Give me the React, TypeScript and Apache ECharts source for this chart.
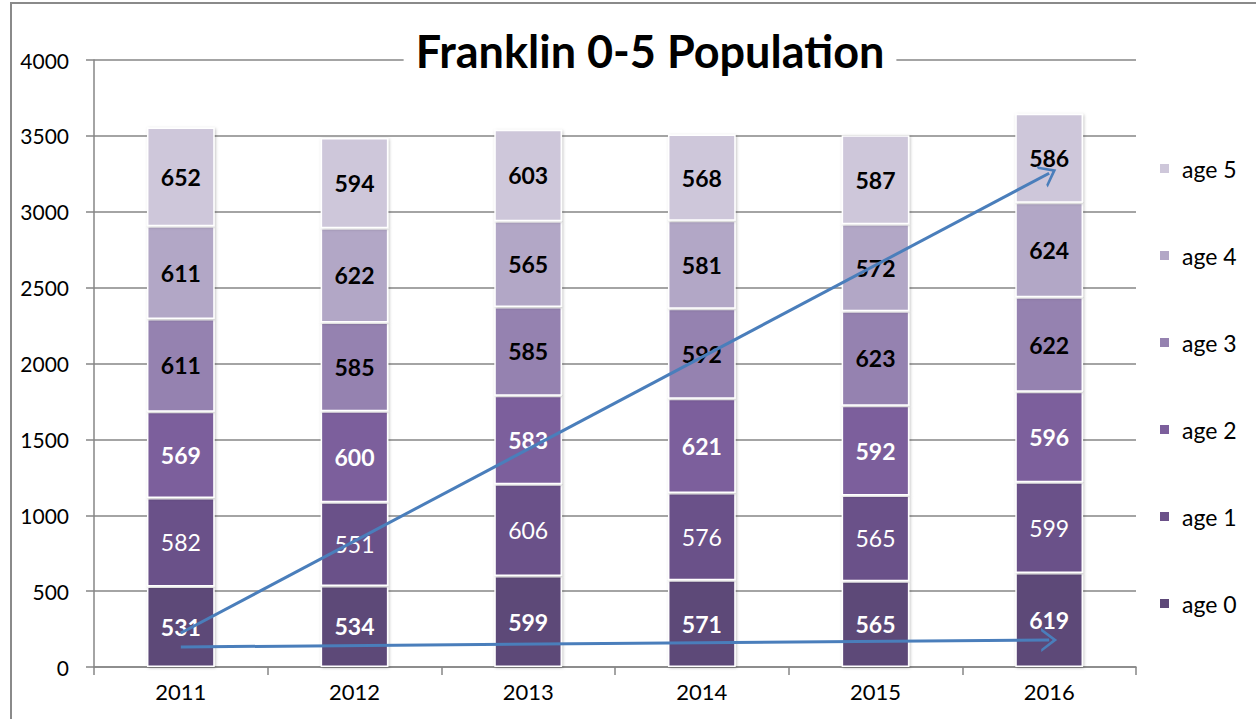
import React, { useEffect, useRef } from "react";
import * as echarts from "echarts";

const years = ["2011", "2012", "2013", "2014", "2015", "2016"];
const seriesNames = ["age 0", "age 1", "age 2", "age 3", "age 4", "age 5"];
const age0 = [531, 534, 599, 571, 565, 619];
const age1 = [582, 551, 606, 576, 565, 599];
const age2 = [569, 600, 583, 621, 592, 596];
const age3 = [611, 585, 585, 592, 623, 622];
const age4 = [611, 622, 565, 581, 572, 624];
const age5 = [652, 594, 603, 568, 587, 586];
const colors = ["#5d4878", "#6b5189", "#7c5f9c", "#9582b0", "#b2a7c6", "#cec7da"];
const labelColors = ["#ffffff", "#ffffff", "#ffffff", "#000000", "#000000", "#000000"];
const labelWeights = ["bold", "normal", "bold", "bold", "bold", "bold"];
const yTicks = [0, 500, 1000, 1500, 2000, 2500, 3000, 3500, 4000];

// trend arrows in data coordinates: [categoryIndex, value]
const arrowUpper = [[0.11, 224], [5.03, 3254]];
const arrowLower = [[0.13, 132], [4.98, 178]];

const FONT = "Lato, 'Open Sans', sans-serif";

export default function App() {
  const ref = useRef<HTMLDivElement>(null);
  useEffect(() => {
    if (!ref.current) return;
    const chart = echarts.init(ref.current, undefined, { renderer: "svg" });
    const allData = [age0, age1, age2, age3, age4, age5];
    const chevron = "path://M0,10 L5,0 L10,10 L8.7,10 L5,2.8 L1.3,10 Z";
    const series: any[] = allData.map((d, i) => ({
      name: seriesNames[i],
      type: "bar",
      stack: "total",
      barWidth: "39%",
      data: d,
      itemStyle: {
        color: colors[i],
        borderColor: "#ffffff",
        borderWidth: 1.5,
        shadowBlur: 3,
        shadowColor: "rgba(0,0,0,0.25)",
        shadowOffsetX: 1,
        shadowOffsetY: 1,
      },
      label: {
        show: true,
        position: "inside",
        color: labelColors[i],
        fontWeight: labelWeights[i],
        fontSize: 23,
        fontFamily: FONT,
      },
    }));
    series[series.length - 1].markLine = {
      silent: true,
      symbol: ["none", chevron],
      symbolSize: [24, 16],
      label: { show: false },
      lineStyle: { color: "#4a7ebb", width: 3, type: "solid" },
      data: [
        [{ coord: arrowUpper[0] }, { coord: arrowUpper[1] }],
        [{ coord: arrowLower[0] }, { coord: arrowLower[1] }],
      ],
    };
    chart.setOption({
      animation: false,
      backgroundColor: "#ffffff",
      title: {
        text: "Franklin 0-5 Population",
        left: 638,
        textAlign: "center",
        top: 26,
        padding: [2, 12, 2, 12],
        backgroundColor: "#ffffff",
        textStyle: { fontFamily: FONT, fontWeight: "bold", fontSize: 45, color: "#000000" },
      },
      legend: {
        data: [...seriesNames].reverse(),
        orient: "vertical",
        left: 1158,
        top: 157,
        padding: 0,
        itemWidth: 11,
        itemHeight: 11,
        itemGap: 64,
        icon: "rect",
        textStyle: { fontFamily: FONT, fontSize: 23, color: "#000000", lineHeight: 23, padding: [0, 0, 0, 7] },
      },
      grid: { left: 94, right: 120, top: 60, bottom: 52, containLabel: false },
      xAxis: {
        type: "category",
        data: years,
        axisLine: { lineStyle: { color: "#868686", width: 1.5 } },
        axisTick: { show: true, length: 8, lineStyle: { color: "#868686", width: 1.5 } },
        axisLabel: { color: "#000000", fontSize: 22, fontFamily: FONT, margin: 13 },
      },
      yAxis: {
        type: "value",
        min: 0,
        max: 4000,
        interval: 500,
        axisLine: { show: true, lineStyle: { color: "#868686", width: 1.5 } },
        axisTick: { show: true, length: 8, lineStyle: { color: "#868686", width: 1.5 } },
        axisLabel: {
          color: "#000000",
          fontSize: 21,
          fontFamily: FONT,
          margin: 25,
          formatter: (v: number) => (yTicks.includes(v) ? String(v) : ""),
        },
        splitLine: { lineStyle: { color: "#868686", width: 1.5 } },
      },
      graphic: [
        {
          type: "rect",
          silent: true,
          z: 100,
          shape: { x: 11, y: 3, width: 1400, height: 900 },
          style: { fill: "none", stroke: "#8a8a8a", lineWidth: 2 },
        },
      ],
      series,
    });
    return () => chart.dispose();
  }, []);
  return (
    <div
      ref={ref}
      style={{ position: "fixed", left: 0, top: 0, width: 1256, height: 719, background: "#fff" }}
    />
  );
}
